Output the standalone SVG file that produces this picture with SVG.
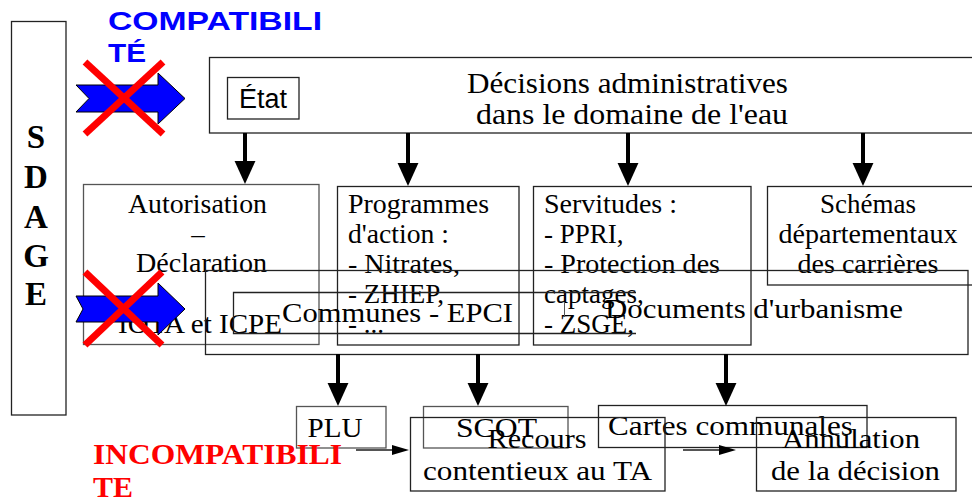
<svg xmlns="http://www.w3.org/2000/svg" width="972" height="498" viewBox="0 0 972 498">
  <style>
    .box { fill: none; stroke: #222; stroke-width: 1.3; }
    .gbox { fill: none; stroke: #555; stroke-width: 1.3; }
    .t { font-family: "Liberation Serif", "Times New Roman", serif; font-size: 27px; fill: #000; }
    .tc { font-family: "Liberation Serif", "Times New Roman", serif; font-size: 27px; fill: #000; text-anchor: middle; }
    .big { font-family: "Liberation Serif", "Times New Roman", serif; font-size: 30px; fill: #000; }
    .sans { font-family: "Liberation Sans", Arial, sans-serif; font-size: 27px; fill: #000; }
    .sdage { font-family: "Liberation Serif", "Times New Roman", serif; font-size: 33px; font-weight: bold; fill: #000; text-anchor: middle; }
    .compat { font-family: "Liberation Sans", Arial, sans-serif; font-size: 25px; font-weight: bold; fill: #0000ff; }
    .incompat { font-family: "Liberation Serif", "Times New Roman", serif; font-size: 30px; font-weight: bold; fill: #ff0000; }
    .thick { stroke: #000; stroke-width: 4; fill: none; marker-end: url(#headBig); }
    .thin { stroke: #555; stroke-width: 2; fill: none; marker-end: url(#headSmall); }
    .blue { fill: #0000ff; stroke: #000; stroke-width: 1; }
    .cross { stroke: #ff0000; stroke-width: 7; }
  </style>
  <defs>
    <marker id="headBig" markerUnits="userSpaceOnUse" markerWidth="24" markerHeight="24" viewBox="0 -11 23 22" refX="0" refY="0" orient="auto">
      <path d="M0,-10 L22,0 L0,10 Z" fill="#000"/>
    </marker>
    <marker id="headSmall" markerUnits="userSpaceOnUse" markerWidth="19" markerHeight="12" viewBox="0 -6 18 12" refX="0" refY="0" orient="auto">
      <path d="M0,-5 L17,0 L0,5 Z" fill="#000"/>
    </marker>
  </defs>

  <!-- SDAGE column -->
  <g id="sdage">
    <rect x="11.5" y="21.5" width="54.5" height="393.5" class="box"/>
    <text x="36" y="148" class="sdage">S</text>
    <text x="36" y="188" class="sdage">D</text>
    <text x="36" y="228" class="sdage">A</text>
    <text x="36" y="267" class="sdage">G</text>
    <text x="36" y="305" class="sdage">E</text>
  </g>

  <!-- Top box: administrative decisions -->
  <g id="decisions">
    <rect x="209.5" y="57.5" width="770" height="75.5" class="box"/>
    <text x="467" y="93" class="big" textLength="321" lengthAdjust="spacingAndGlyphs">Décisions administratives</text>
    <text x="476" y="124" class="big" textLength="312" lengthAdjust="spacingAndGlyphs">dans le domaine de l'eau</text>
  </g>
  <g id="etat">
    <rect x="227.5" y="77.5" width="71.5" height="41.5" class="box"/>
    <text x="239" y="108" class="sans" textLength="48" lengthAdjust="spacingAndGlyphs">État</text>
  </g>

  <!-- Second row -->
  <g id="autorisation">
    <rect x="83.5" y="184.5" width="235.5" height="160" class="gbox"/>
    <text x="128" y="213" class="t" textLength="139" lengthAdjust="spacingAndGlyphs">Autorisation</text>
    <text x="198" y="243" class="tc">–</text>
    <text x="136" y="272" class="t" textLength="131" lengthAdjust="spacingAndGlyphs">Déclaration</text>
    <text x="118" y="333" class="t" textLength="164" lengthAdjust="spacingAndGlyphs">IOTA et ICPE</text>
  </g>
  <g id="programmes">
    <rect x="337.5" y="186.5" width="181.5" height="158.5" class="box"/>
    <text x="348" y="213" class="t" textLength="141" lengthAdjust="spacingAndGlyphs">Programmes</text>
    <text x="348" y="243" class="t" textLength="101" lengthAdjust="spacingAndGlyphs">d'action :</text>
    <text x="348" y="273" class="t" textLength="112" lengthAdjust="spacingAndGlyphs">- Nitrates,</text>
    <text x="348" y="303" class="t">- ZHIEP,</text>
    <text x="348" y="333" class="t">- ...</text>
  </g>
  <g id="servitudes">
    <rect x="533.5" y="186.5" width="217.5" height="158.5" class="box"/>
    <text x="544" y="213" class="t" textLength="133" lengthAdjust="spacingAndGlyphs">Servitudes :</text>
    <text x="544" y="243" class="t">- PPRI,</text>
    <text x="544" y="273" class="t" textLength="176" lengthAdjust="spacingAndGlyphs">- Protection des</text>
    <text x="544" y="303" class="t">captages,</text>
    <text x="544" y="333" class="t">- ZSGE,</text>
  </g>
  <g id="schemas">
    <rect x="767.5" y="186.5" width="212" height="98.5" class="box"/>
    <text x="868" y="213" class="tc">Schémas</text>
    <text x="868" y="243" class="tc" textLength="179" lengthAdjust="spacingAndGlyphs">départementaux</text>
    <text x="868" y="273" class="tc" textLength="141" lengthAdjust="spacingAndGlyphs">des carrières</text>
  </g>

  <!-- Urban planning layer -->
  <g id="documents">
    <rect x="205.5" y="270.5" width="762.5" height="84" class="box"/>
    <text x="605" y="318" class="t" textLength="298" lengthAdjust="spacingAndGlyphs">Documents d'urbanisme</text>
    <line x1="564.5" y1="302" x2="564.5" y2="317" stroke="#555" stroke-width="1"/>
  </g>
  <g id="communes">
    <path d="M636,292.5 H233.5 V333.5 H636" class="box"/>
    <text x="282" y="322" class="t" textLength="231" lengthAdjust="spacingAndGlyphs">Communes - EPCI</text>
  </g>

  <!-- Bottom row -->
  <g id="plu">
    <rect x="296.5" y="406.5" width="89.5" height="41.5" class="gbox"/>
    <text x="335" y="437" class="tc" textLength="55" lengthAdjust="spacingAndGlyphs">PLU</text>
  </g>
  <g id="scot">
    <rect x="423.5" y="406.5" width="144.5" height="41.5" class="gbox"/>
    <text x="456" y="437" class="t" textLength="81" lengthAdjust="spacingAndGlyphs">SCOT</text>
  </g>
  <g id="cartes">
    <rect x="598.5" y="405.5" width="268.5" height="42" class="box"/>
    <text x="608" y="435" class="t" textLength="245" lengthAdjust="spacingAndGlyphs">Cartes communales</text>
  </g>
  <g id="recours">
    <rect x="410.5" y="417.5" width="254.5" height="73.5" class="box"/>
    <text x="537" y="448" class="tc" textLength="99" lengthAdjust="spacingAndGlyphs">Recours</text>
    <text x="423" y="480" class="t" textLength="229" lengthAdjust="spacingAndGlyphs">contentieux au TA</text>
  </g>
  <g id="annulation">
    <rect x="756.5" y="417.5" width="199.5" height="73.5" class="box"/>
    <text x="782" y="448" class="t" textLength="138" lengthAdjust="spacingAndGlyphs">Annulation</text>
    <text x="771" y="480" class="t" textLength="169" lengthAdjust="spacingAndGlyphs">de la décision</text>
  </g>

  <!-- Connectors -->
  <g id="connectors">
    <line x1="245" y1="133" x2="245" y2="161" class="thick"/>
    <line x1="408" y1="133" x2="408" y2="163" class="thick"/>
    <line x1="628" y1="133" x2="628" y2="163" class="thick"/>
    <line x1="863" y1="133" x2="863" y2="163" class="thick"/>
    <line x1="338" y1="354" x2="338" y2="383" class="thick"/>
    <line x1="478" y1="354" x2="478" y2="383" class="thick"/>
    <line x1="726" y1="354" x2="726" y2="383" class="thick"/>
    <line x1="356" y1="450" x2="392" y2="450" class="thin"/>
    <line x1="683" y1="450" x2="719" y2="450" class="thin"/>
  </g>

  <!-- Compatibility arrows, crossed out -->
  <g id="compatibilite">
    <text x="108" y="30" class="compat" textLength="214" lengthAdjust="spacingAndGlyphs">COMPATIBILI</text>
    <text x="108" y="62" class="compat" textLength="38" lengthAdjust="spacingAndGlyphs">TÉ</text>
    <polygon class="blue" points="76,85 158,85 158,73 185,98.5 158,124 158,112 76,112 89,98.5"/>
    <line x1="85" y1="62" x2="163" y2="134" class="cross"/>
    <line x1="163" y1="62" x2="85" y2="134" class="cross"/>
  </g>
  <g id="incompatibilite">
    <polygon class="blue" points="76,296 158,296 158,283 185,309 158,335 158,322 76,322 83,309"/>
    <line x1="85" y1="272" x2="162" y2="345" class="cross"/>
    <line x1="162" y1="272" x2="85" y2="345" class="cross"/>
    <text x="93" y="464" class="incompat" textLength="249" lengthAdjust="spacingAndGlyphs">INCOMPATIBILI</text>
    <text x="93" y="497" class="incompat" textLength="40" lengthAdjust="spacingAndGlyphs">TE</text>
  </g>
</svg>
